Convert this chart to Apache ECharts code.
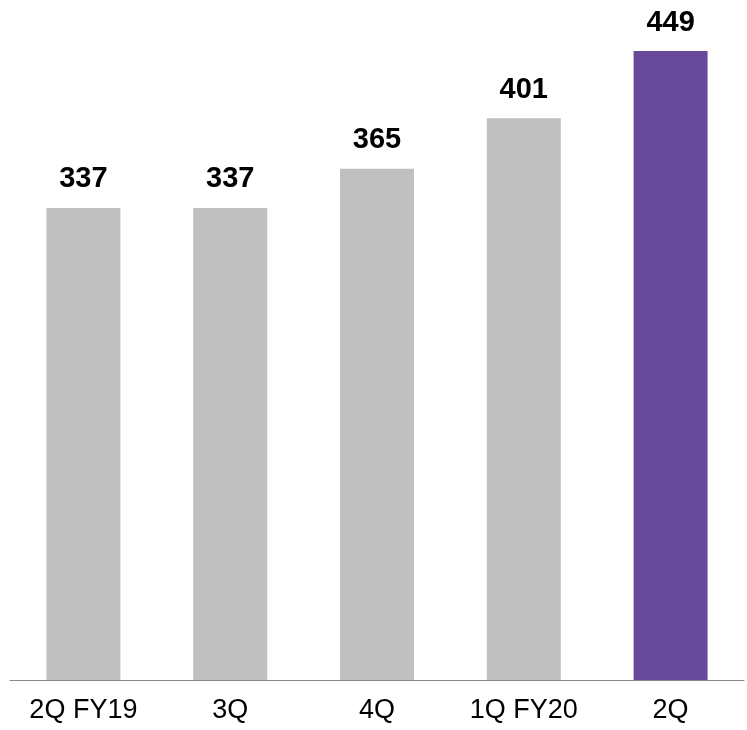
<!DOCTYPE html>
<html>
<head>
<meta charset="utf-8">
<script src="https://cdn.jsdelivr.net/npm/echarts@6/dist/echarts.min.js"></script>
<style>html,body{margin:0;padding:0;background:#fff;}#c{width:747px;height:730px;}</style>
</head>
<body>
<div id="c"></div>
<script>
var categories = ['2Q FY19', '3Q', '4Q', '1Q FY20', '2Q'];
var values = [337, 337, 365, 401, 449];
var colors = ['#C0C0C0', '#C0C0C0', '#C0C0C0', '#C0C0C0', '#684A9A'];

var chart = echarts.init(document.getElementById('c'));
chart.setOption({
  animation: false,
  grid: { left: 10, right: 3, top: 51, bottom: 50 },
  xAxis: {
    type: 'category',
    data: categories,
    axisLine: { lineStyle: { color: '#8a8a8a', width: 1 } },
    axisTick: { show: false },
    axisLabel: { color: '#000', fontSize: 27, fontFamily: 'Liberation Sans, Arial, sans-serif', margin: 17 }
  },
  yAxis: {
    type: 'value', min: 0, max: 449,
    show: false, splitLine: { show: false }
  },
  series: [{
    type: 'bar',
    barWidth: 74,
    data: values.map(function (v, i) { return { value: v, itemStyle: { color: colors[i] } }; }),
    label: {
      show: true, position: 'top', distance: 14,
      color: '#000', fontSize: 29, fontWeight: 'bold',
      fontFamily: 'Liberation Sans, Arial, sans-serif'
    }
  }]
});
</script>
</body>
</html>
